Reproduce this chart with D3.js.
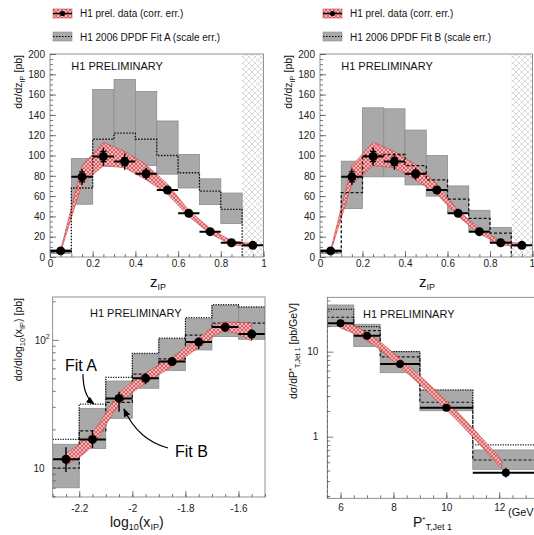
<!DOCTYPE html>
<html><head><meta charset="utf-8">
<script src="https://cdn.jsdelivr.net/npm/d3@7"></script>
<style>
body{margin:0;background:#fff;}
svg{display:block;font-family:"Liberation Sans",Arial,Helvetica,sans-serif;}
</style></head><body>
<svg id="c" width="534" height="535"></svg>
<script>
// ---- z_IP distribution (top panels) ----
const zEdges   = [0,0.1,0.2,0.3,0.4,0.5,0.6,0.7,0.8,0.9,1.0];
const zCenters = [0.05,0.15,0.25,0.35,0.45,0.55,0.65,0.75,0.85,0.95];
const zData    = [6,79,99,94,82,66,43,25,14,11.5];
const zErrTot  = [2,8,9,8,6,4,3,2,2,3];
const zErrStat = [1,5,5,4,3,2,2,1,1,2];
const zBandLo  = [5,72,90,88,76,62,40,23,12,10];
const zBandHi  = [7,90,113,104,91,72,46,28,16,13];
const zFitA    = [5,68,116,122,116,100,83,65,47];
const zFitALo  = [3.5,52,89.5,91,90,81.6,68,51.6,33];
const zFitAHi  = [7.5,97,165,175,163,134,101,77,63];
const zFitB    = [5,63.5,100,101,90,76,57,38,23.6];
const zFitBLo  = [3.5,47.7,79,79,71,60,44,26,14];
const zFitBHi  = [7.5,94.4,147,146,125,100,70,46,29];
const zTicks   = [0,0.2,0.4,0.6,0.8,1];
const zYTicks  = [0,20,40,60,80,100,120,140,160,180,200];

// ---- log10(x_IP) distribution (bottom left) ----
const xEdges   = [-2.3,-2.2,-2.1,-2.0,-1.9,-1.8,-1.7,-1.6,-1.5];
const xCenters = [-2.25,-2.15,-2.05,-1.95,-1.85,-1.75,-1.65,-1.55];
const xData    = [11.7,16.7,34.9,50.1,67.6,96,125.7,110.9];
const xErrLo   = [9.3,14.3,27.5,45,63,85,115,100];
const xErrHi   = [14.5,19.7,39.4,55,72,103,135,120];
const xBandLo  = [10.5,15,31,46,62,87,116,98];
const xBandHi  = [13,19,38,55,73,104,138,135];
const xBoxLo   = [7.0,14.2,24.4,41.9,57.5,83.4,106,101];
const xBoxHi   = [15.3,29.2,47.7,77.6,101.8,146,186,179];
const xFitA    = [16.7,31.5,51,78.5,103,149,188,181];
const xFitB    = [9.95,19.5,32.5,54,71,109,135,135];
const xTicks   = [-2.2,-2,-1.8,-1.6];

// ---- P*T,Jet1 distribution (bottom right) ----
const ptEdges   = [5.5,6.5,7.5,9,11,13.5];
const ptCenters = [6,7,8.25,10,12.25];
const ptData    = [21.6,15.4,7.17,2.19,0.377];
const ptErrLo   = [19.8,14.0,6.7,2.0,0.33];
const ptErrHi   = [23.5,16.8,7.7,2.4,0.43];
const ptBandX   = [6,7,8.25,10,12.1];
const ptBandLo  = [19,13.5,6.6,2.08,0.42];
const ptBandHi  = [23.5,16.8,8.3,2.65,0.53];
const ptBoxLo   = [19.7,11.5,5.66,2.02,0.413];
const ptBoxHi   = [35.4,21,10,3.54,0.698];
const ptFitA    = [31.5,19.7,10,3.54,0.80];
const ptFitB    = [25.4,17.7,8.7,2.54,0.532];
const ptTicks   = [6,8,10,12];

const svg = d3.select('#c');
const defs = svg.append('defs');

// red cross-hatch for the data band
const pr = defs.append('pattern').attr('id','redhatch').attr('patternUnits','userSpaceOnUse')
  .attr('width',4).attr('height',4);
pr.append('rect').attr('width',4).attr('height',4).attr('fill','#f1b9b9');
pr.append('path').attr('d','M0,0L4,4M4,0L0,4').attr('stroke','#d9575a').attr('stroke-width',0.9);

// light grey cross-hatch for excluded region
const pg = defs.append('pattern').attr('id','greyhatch').attr('patternUnits','userSpaceOnUse')
  .attr('width',6).attr('height',6);
pg.append('rect').attr('width',6).attr('height',6).attr('fill','#fff');
pg.append('path').attr('d','M0,0L6,6M6,0L0,6').attr('stroke','#d2d2d2').attr('stroke-width',0.8);

defs.append('marker').attr('id','arr').attr('viewBox','0 0 10 10').attr('refX',9).attr('refY',5)
  .attr('markerWidth',7).attr('markerHeight',7).attr('orient','auto-start-reverse')
  .append('path').attr('d','M0,1L10,5L0,9z').attr('fill','#000');

const BOXFILL = '#a9a9a9', BOXEDGE = '#8c8c8c';

function stepPath(edges, vals, x, y, fromBottom, toBottom){
  const y0 = y.range()[0];
  let d = '';
  vals.forEach((v,i)=>{
    if(i===0) d += fromBottom ? `M${x(edges[0])},${y0}V${y(v)}` : `M${x(edges[0])},${y(v)}`;
    else d += `V${y(v)}`;
    d += `H${x(edges[i+1])}`;
  });
  if(toBottom) d += `V${y0}`;
  return d;
}

function makePanel(id, x, y){
  const [x0,x1] = x.range(), [yb,yt] = y.range();
  defs.append('clipPath').attr('id','clip'+id).append('rect')
    .attr('x',x0).attr('y',yt).attr('width',x1-x0).attr('height',yb-yt);
  const g = svg.append('g');
  const inner = g.append('g').attr('clip-path',`url(#clip${id})`);
  return {g, inner, x0, x1, yb, yt};
}

function drawBoxes(layer, edges, lo, hi, x, y){
  layer.selectAll(null).data(lo).join('rect')
    .attr('x',(d,i)=>x(edges[i])).attr('width',(d,i)=>x(edges[i+1])-x(edges[i]))
    .attr('y',(d,i)=>y(hi[i])).attr('height',(d,i)=>y(lo[i])-y(hi[i]))
    .attr('fill',BOXFILL).attr('stroke',BOXEDGE).attr('stroke-width',0.8);
}

function drawBand(layer, xs, lo, hi, x, y, curve){
  const area = d3.area().x((d,i)=>x(xs[i])).y0((d,i)=>y(lo[i])).y1(d=>y(d)).curve(curve);
  layer.append('path').datum(hi).attr('d',area)
    .attr('fill','url(#redhatch)').attr('stroke','#d0484c').attr('stroke-width',0.8).attr('stroke-opacity',0.8);
}

function drawData(layer, edges, xs, vals, lo, hi, slo, shi, x, y, r){
  layer.selectAll(null).data(vals).join('line')
    .attr('x1',(d,i)=>x(edges[i])).attr('x2',(d,i)=>x(edges[i+1]))
    .attr('y1',d=>y(d)).attr('y2',d=>y(d)).attr('stroke','#000').attr('stroke-width',2);
  layer.selectAll(null).data(vals).join('line')
    .attr('x1',(d,i)=>x(xs[i])).attr('x2',(d,i)=>x(xs[i]))
    .attr('y1',(d,i)=>y(lo[i])).attr('y2',(d,i)=>y(hi[i])).attr('stroke','#000').attr('stroke-width',1.4);
  if(slo){
    [slo,shi].forEach(arr=>{
      layer.selectAll(null).data(arr).join('line')
        .attr('x1',(d,i)=>x(xs[i])-3).attr('x2',(d,i)=>x(xs[i])+3)
        .attr('y1',d=>y(d)).attr('y2',d=>y(d)).attr('stroke','#000').attr('stroke-width',1.2);
    });
  }
  layer.selectAll(null).data(vals).join('circle')
    .attr('cx',(d,i)=>x(xs[i])).attr('cy',d=>y(d)).attr('r',r).attr('fill','#000');
}

function frame(p){
  p.g.append('rect').attr('x',p.x0).attr('y',p.yt).attr('width',p.x1-p.x0).attr('height',p.yb-p.yt)
    .attr('fill','none').attr('stroke','#777').attr('stroke-width',0.8);
}

function styleAxis(sel, fs){
  sel.select('.domain').remove();
  sel.selectAll('.tick line').attr('stroke','#555').attr('stroke-width',0.8);
  sel.selectAll('.tick text').attr('font-size',fs||10).attr('fill','#222')
    .attr('font-family','"Liberation Sans",Arial,sans-serif');
}

function linearAxes(p, x, y, xT, yT, xMinor, yMinor, xFmt){
  p.g.append('g').attr('transform',`translate(0,${p.yb})`)
    .call(d3.axisBottom(x).tickValues(xMinor).tickSize(-3).tickFormat('')).call(styleAxis);
  const xa = p.g.append('g').attr('transform',`translate(0,${p.yb})`)
    .call(d3.axisBottom(x).tickValues(xT).tickSize(-6).tickPadding(3).tickFormat(xFmt)).call(styleAxis);
  p.g.append('g').attr('transform',`translate(${p.x0},0)`)
    .call(d3.axisLeft(y).tickValues(yMinor).tickSize(-3).tickFormat('')).call(styleAxis);
  p.g.append('g').attr('transform',`translate(${p.x0},0)`)
    .call(d3.axisLeft(y).tickValues(yT).tickSize(-6).tickPadding(5).tickFormat(d3.format('d'))).call(styleAxis);
  return xa;
}

function rotLabel(px, py, parts){
  const t = svg.append('text').attr('transform',`translate(${px},${py}) rotate(-90)`)
    .attr('text-anchor','end').attr('font-size',10.5).attr('fill','#111');
  parts.forEach(pt=>{
    t.append('tspan').text(pt[0]).attr('dy',pt[1]||0).attr('font-size',pt[2]||10.5);
  });
}

function legend(ox, fitName){
  const g = svg.append('g');
  g.append('rect').attr('x',ox).attr('y',9).attr('width',19).attr('height',9)
    .attr('fill','url(#redhatch)').attr('stroke','#d0484c').attr('stroke-width',0.6);
  g.append('line').attr('x1',ox).attr('x2',ox+19).attr('y1',13.5).attr('y2',13.5).attr('stroke','#000').attr('stroke-width',1.5);
  g.append('circle').attr('cx',ox+9.5).attr('cy',13.5).attr('r',2.6).attr('fill','#000');
  g.append('rect').attr('x',ox).attr('y',32).attr('width',19).attr('height',9)
    .attr('fill',BOXFILL).attr('stroke',BOXEDGE).attr('stroke-width',0.6);
  g.append('line').attr('x1',ox).attr('x2',ox+19).attr('y1',36.5).attr('y2',36.5)
    .attr('stroke','#000').attr('stroke-width',1).attr('stroke-dasharray','1.5,1.5');
  g.append('text').attr('x',ox+27).attr('y',17).attr('font-size',10).attr('fill','#111').text('H1 prel. data (corr. err.)');
  g.append('text').attr('x',ox+27).attr('y',40.5).attr('font-size',10).attr('fill','#111').text(`H1 2006 DPDF Fit ${fitName} (scale err.)`);
}

const zMinor = d3.range(0,1.0001,0.05);
const zYMinor = d3.range(0,200.1,5);
const zFmt = d => d===0 ? '0' : (d===1 ? '1' : d3.format('.1f')(d));

// ---------- Top panels ----------
function topPanel(id, xr, fit, fitLo, fitHi, dash){
  const x = d3.scaleLinear().domain([0,1]).range(xr);
  const y = d3.scaleLinear().domain([0,200]).range([257,54]);
  const p = makePanel(id, x, y);
  p.inner.append('rect').attr('x',x(0.9)).attr('width',x(1)-x(0.9)).attr('y',p.yt).attr('height',p.yb-p.yt)
    .attr('fill','url(#greyhatch)');
  drawBoxes(p.inner, zEdges, fitLo, fitHi, x, y);
  drawBand(p.inner, zCenters, zBandLo, zBandHi, x, y, d3.curveLinear);
  p.inner.append('path').attr('d',stepPath(zEdges, fit, x, y, false, true))
    .attr('fill','none').attr('stroke','#111').attr('stroke-width',1.3).attr('stroke-dasharray',dash);
  drawData(p.inner, zEdges, zCenters, zData,
    zData.map((d,i)=>d-zErrTot[i]), zData.map((d,i)=>d+zErrTot[i]),
    zData.map((d,i)=>d-zErrStat[i]), zData.map((d,i)=>d+zErrStat[i]), x, y, 4.5);
  frame(p);
  const xa = linearAxes(p, x, y, zTicks, zYTicks, zMinor, zYMinor, zFmt);
  p.g.append('text').attr('x',x(0.1)).attr('y',70).attr('font-size',11).attr('fill','#111').text('H1 PRELIMINARY');
  return {x,y,p,xa};
}
topPanel(1, [50,263.5], zFitA, zFitALo, zFitAHi, '1.5,1.5');
const right = topPanel(2, [320,532.5], zFitB, zFitBLo, zFitBHi, '3,2');
// keep the last tick label of the right panel inside the window
right.xa.selectAll('.tick text').filter(d=>d===1).attr('text-anchor','end').attr('dx',2);
legend(53,'A');
legend(323,'B');

rotLabel(22,55,[['dσ/dz'],['IP',2.5,7.5],['  [pb]',-2.5]]);
rotLabel(292,55,[['dσ/dz'],['IP',2.5,7.5],['  [pb]',-2.5]]);

function zLabel(px){
  const t = svg.append('text').attr('x',px).attr('y',287).attr('font-size',15).attr('fill','#111');
  t.append('tspan').text('z');
  t.append('tspan').text('IP').attr('font-size',9).attr('dy',3);
}
zLabel(150); zLabel(419);

// ---------- Bottom left: log10(x_IP) ----------
{
  const x = d3.scaleLinear().domain([-2.3,-1.5]).range([52.7,265]);
  const y = d3.scaleLog().domain([5.93,216]).range([497,297]);
  const p = makePanel(3, x, y);
  drawBoxes(p.inner, xEdges, xBoxLo, xBoxHi, x, y);
  p.inner.append('path').attr('d',stepPath(xEdges, xFitA, x, y, false, false))
    .attr('fill','none').attr('stroke','#111').attr('stroke-width',1.2).attr('stroke-dasharray','1.2,1.3');
  p.inner.append('path').attr('d',stepPath(xEdges, xFitB, x, y, false, false))
    .attr('fill','none').attr('stroke','#111').attr('stroke-width',1.2).attr('stroke-dasharray','3,2');
  drawBand(p.inner, xCenters, xBandLo, xBandHi, x, y, d3.curveMonotoneX);
  drawData(p.inner, xEdges, xCenters, xData, xErrLo, xErrHi, null, null, x, y, 4.5);
  frame(p);
  const xMin = d3.range(-2.3,-1.499,0.05).map(v=>+v.toFixed(2));
  p.g.append('g').attr('transform',`translate(0,${p.yb})`)
    .call(d3.axisBottom(x).tickValues(xMin).tickSize(-3).tickFormat('')).call(styleAxis);
  p.g.append('g').attr('transform',`translate(0,${p.yb})`)
    .call(d3.axisBottom(x).tickValues(xTicks).tickSize(-6).tickPadding(8).tickFormat(d=>d===-2?'-2':d3.format('.1f')(d).replace('−','-'))).call(styleAxis);
  const yMin = [6,7,8,9,20,30,40,50,60,70,80,90,200];
  p.g.append('g').attr('transform',`translate(${p.x0},0)`)
    .call(d3.axisLeft(y).tickValues(yMin).tickSize(-3).tickFormat('')).call(styleAxis);
  p.g.append('g').attr('transform',`translate(${p.x0},0)`)
    .call(d3.axisLeft(y).tickValues([10,100]).tickSize(-6).tickFormat('')).call(styleAxis);
  p.g.append('text').attr('x',p.x0-8).attr('y',y(10)+4).attr('text-anchor','end').attr('font-size',10).attr('fill','#222').text('10');
  const t2 = p.g.append('text').attr('x',p.x0-18).attr('y',y(100)+4).attr('font-size',10).attr('fill','#222');
  t2.append('tspan').text('10'); t2.append('tspan').text('2').attr('font-size',7).attr('dy',-5);
  p.g.append('text').attr('x',90).attr('y',317).attr('font-size',11).attr('fill','#111').text('H1 PRELIMINARY');

  // Fit labels with arrows
  p.g.append('text').attr('x',65).attr('y',371).attr('font-size',16).attr('fill','#000').text('Fit A');
  p.g.append('text').attr('x',175).attr('y',457).attr('font-size',16).attr('fill','#000').text('Fit B');
  p.g.append('path').attr('d','M83,374Q83,396 94,404').attr('fill','none').attr('stroke','#000').attr('stroke-width',1.2).attr('marker-end','url(#arr)');
  p.g.append('path').attr('d','M168,448Q138,440 124,409').attr('fill','none').attr('stroke','#000').attr('stroke-width',1.2).attr('marker-end','url(#arr)');
}
rotLabel(22,298,[['dσ/dlog'],['10',2.5,7.5],['(x',-2.5],['IP',2.5,7.5],[')  [pb]',-2.5]]);
{
  const t = svg.append('text').attr('x',110).attr('y',527).attr('font-size',14).attr('fill','#111');
  t.append('tspan').text('log');
  t.append('tspan').text('10').attr('font-size',9).attr('dy',3);
  t.append('tspan').text('(x').attr('dy',-3);
  t.append('tspan').text('IP').attr('font-size',9).attr('dy',3);
  t.append('tspan').text(')').attr('dy',-3);
}

// ---------- Bottom right: P*T,Jet1 ----------
{
  const x = d3.scaleLinear().domain([5.5,13.5]).range([327.3,538.9]);
  const y = d3.scaleLog().domain([0.1885,43.6]).range([498.3,297.3]);
  const p = makePanel(4, x, y);
  drawBoxes(p.inner, ptEdges, ptBoxLo, ptBoxHi, x, y);
  p.inner.append('path').attr('d',stepPath(ptEdges, ptFitA, x, y, true, false))
    .attr('fill','none').attr('stroke','#111').attr('stroke-width',1.2).attr('stroke-dasharray','1.2,1.3');
  p.inner.append('path').attr('d',stepPath(ptEdges, ptFitB, x, y, true, false))
    .attr('fill','none').attr('stroke','#111').attr('stroke-width',1.2).attr('stroke-dasharray','3,2');
  drawBand(p.inner, ptBandX, ptBandLo, ptBandHi, x, y, d3.curveMonotoneX);
  drawData(p.inner, ptEdges, ptCenters, ptData, ptErrLo, ptErrHi, null, null, x, y, 4);
  frame(p);
  p.g.append('g').attr('transform',`translate(0,${p.yb})`)
    .call(d3.axisBottom(x).tickValues(d3.range(5.5,13.51,0.5)).tickSize(-3).tickFormat('')).call(styleAxis);
  p.g.append('g').attr('transform',`translate(0,${p.yb})`)
    .call(d3.axisBottom(x).tickValues(ptTicks).tickSize(-6).tickPadding(6).tickFormat(d3.format('d'))).call(styleAxis);
  const yMin = [0.2,0.3,0.4,0.5,0.6,0.7,0.8,0.9,2,3,4,5,6,7,8,9,20,30,40];
  p.g.append('g').attr('transform',`translate(${p.x0},0)`)
    .call(d3.axisLeft(y).tickValues(yMin).tickSize(-3).tickFormat('')).call(styleAxis);
  p.g.append('g').attr('transform',`translate(${p.x0},0)`)
    .call(d3.axisLeft(y).tickValues([1,10]).tickSize(-6).tickPadding(9).tickFormat(d3.format('d'))).call(styleAxis);
  p.g.append('text').attr('x',363).attr('y',318).attr('font-size',11).attr('fill','#111').text('H1 PRELIMINARY');
}
rotLabel(297,303,[['dσ/dP'],['*',-3,7.5],['T,Jet 1',6,7],['  [pb/GeV]',-3]]);
{
  const t = svg.append('text').attr('x',413).attr('y',527).attr('font-size',14).attr('fill','#111');
  t.append('tspan').text('P');
  t.append('tspan').text('*').attr('font-size',8).attr('dy',-5);
  t.append('tspan').text('T,Jet 1').attr('font-size',9).attr('dy',8);
  svg.append('text').attr('x',508).attr('y',516).attr('font-size',11).attr('fill','#111').text('(GeV');
}
</script>
</body></html>
